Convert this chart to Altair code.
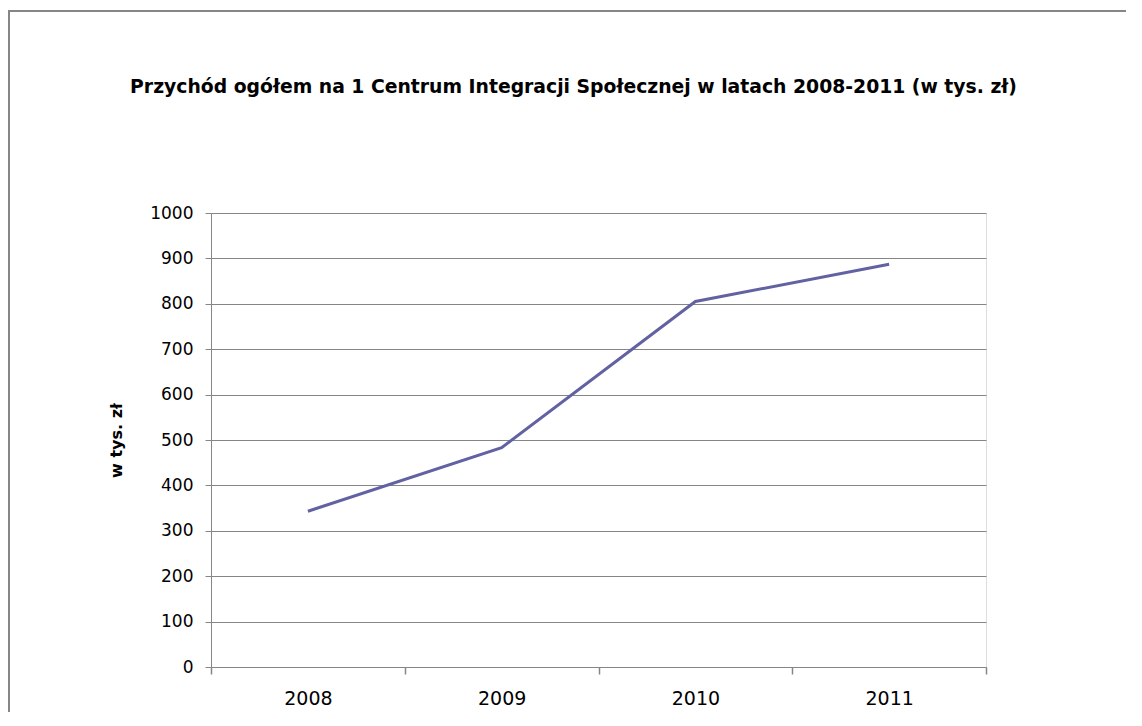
import altair as alt
import pandas as pd

years = ["2008", "2009", "2010", "2011"]
values = [343, 483, 805, 887]
y_ticks = [0, 100, 200, 300, 400, 500, 600, 700, 800, 900, 1000]

df = pd.DataFrame({"rok": years, "wartosc": values})

GRAY = "#868686"
FONT = "DejaVu Sans"

frame = alt.Chart(pd.DataFrame({"a": [0]})).mark_rect(
    fill="transparent", stroke=GRAY, strokeWidth=2, clip=False
).encode(
    x=alt.value(-202), x2=alt.value(1200), y=alt.value(-202), y2=alt.value(700)
)

line = alt.Chart(df).mark_line(color="#6262A2", strokeWidth=3).encode(
    x=alt.X(
        "rok:O",
        sort=years,
        scale=alt.Scale(type="band", paddingInner=0, paddingOuter=0),
        bandPosition=0.5,
        axis=alt.Axis(
            title=None, labelAngle=0, tickBand="extent", grid=False,
            domainColor=GRAY, tickColor=GRAY, tickSize=7, tickWidth=1.5,
            labelFont=FONT, labelFontSize=19, labelColor="#000000",
            labelPadding=15,
        ),
    ),
    y=alt.Y(
        "wartosc:Q",
        scale=alt.Scale(domain=[0, 1000], nice=False),
        axis=alt.Axis(
            values=y_ticks, format="d", title="w tys. zł", titleFont=FONT,
            titleFontSize=16, titleFontWeight="bold", titleColor="#000000",
            titlePadding=25,
            grid=True, gridColor=GRAY, gridWidth=1, gridOpacity=1,
            domainColor=GRAY, tickColor=GRAY, tickSize=6,
            labelFont=FONT, labelFontSize=17, labelColor="#000000",
            labelPadding=12,
        ),
    ),
)

chart = alt.layer(frame, line).properties(
    width=775,
    height=454,
    autosize=alt.AutoSizeParams(type="none"),
    padding={"left": 203, "top": 205, "right": 140, "bottom": 45},
    title=alt.TitleParams(
        "Przychód ogółem na 1 Centrum Integracji Społecznej w latach 2008-2011 (w tys. zł)",
        font=FONT, fontSize=18.8, fontWeight="bold", color="#000000",
        anchor="middle", dx=-25, offset=-87, frame="group",
    ),
).configure_view(stroke=None).configure(background="white")

chart.save("out.html", embed_options={"renderer": "svg", "actions": False})
